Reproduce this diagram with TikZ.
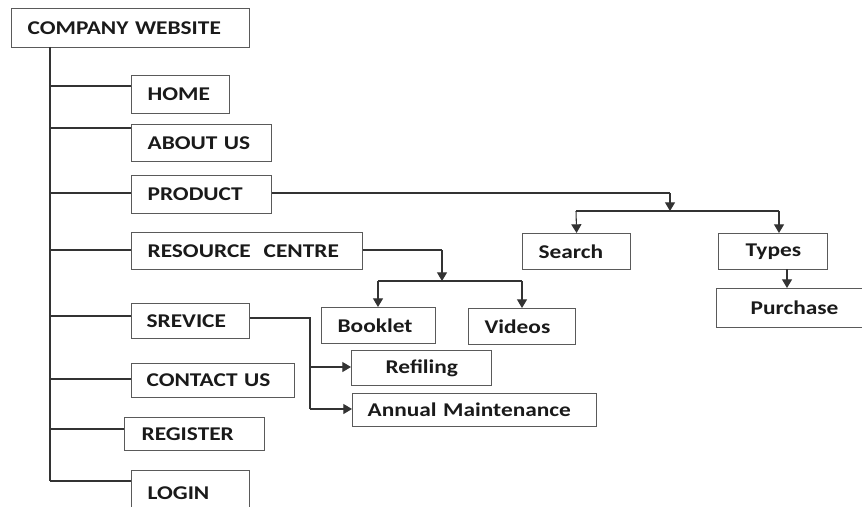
\documentclass[tikz,border=0pt]{standalone}
\usepackage{fontspec}
\setmainfont{Carlito}[FakeStretch=1.2]
\usetikzlibrary{arrows.meta}
\definecolor{edge}{HTML}{5A5A5A}
\definecolor{wire}{HTML}{333333}
\definecolor{ink}{HTML}{1A1A1A}
\tikzset{
  box/.style={draw=edge, line width=0.9pt, anchor=north west, align=left,
    inner ysep=0pt, text=ink, font=\fontsize{14.6}{16}\selectfont\bfseries},
  wirel/.style={draw=wire, line width=0.8pt},
  arr/.style={wirel, -{Triangle[width=7.5pt,length=6.5pt]}}
}
\begin{document}
\begin{tikzpicture}[x=0.75pt,y=-0.75pt]
\clip (0,0) rectangle (862,506);
\useasboundingbox (0,0) rectangle (862,506);
\fill[white] (0,0) rectangle (862,506);

% main menu
\node[box, inner xsep=12pt, text width=154.5pt, minimum height=29.25pt] (web) at (11,8) {\mbox{COMPANY WEBSITE}};
\node[box, inner xsep=12pt, text width=49.5pt, minimum height=28.5pt] (home) at (131,75) {\mbox{HOME}};
\node[box, inner xsep=12pt, text width=81pt, minimum height=27.75pt] (about) at (131,124) {\mbox{ABOUT US}};
\node[box, inner xsep=12pt, text width=81pt, minimum height=28.5pt] (product) at (131,175) {\mbox{PRODUCT}};
\node[box, inner xsep=12pt, text width=149.25pt, minimum height=27.75pt] (resource) at (131,232) {\mbox{RESOURCE\ \ CENTRE}};
\node[box, inner xsep=11.25pt, text width=66pt, minimum height=26.25pt] (service) at (131,303) {\mbox{SREVICE}};
\node[box, inner xsep=11.25pt, text width=99.75pt, minimum height=25.5pt] (contact) at (131,363) {\mbox{CONTACT US}};
\node[box, inner xsep=12.75pt, text width=79.5pt, minimum height=24.75pt] (register) at (124,417) {\mbox{REGISTER}};
\node[box, inner xsep=12pt, text width=64.5pt, minimum height=33.75pt] (login) at (131,470) {\mbox{LOGIN}};

% sub pages
\node[box, inner xsep=12pt, text width=57pt, minimum height=27pt] (search) at (522,233) {\mbox{Search}};
\node[box, inner xsep=20.25pt, text width=41.25pt, minimum height=27pt] (types) at (718,233) {\mbox{Types}};
\node[box, inner xsep=25.5pt, text width=69pt, minimum height=29.25pt] (purchase) at (716,288) {\mbox{Purchase}};
\node[box, inner xsep=12pt, text width=61.5pt, minimum height=27pt] (booklet) at (321,307) {\mbox{Booklet}};
\node[box, inner xsep=12pt, text width=56.25pt, minimum height=27pt] (videos) at (468,308) {\mbox{Videos}};
\node[box, inner xsep=25.5pt, text width=54pt, minimum height=26.25pt] (refiling) at (351,350) {\mbox{Refiling}};
\node[box, inner xsep=11.25pt, text width=160.5pt, minimum height=24.75pt] (annual) at (352,393) {\mbox{Annual Maintenance}};

% trunk and branches
\coordinate (ttop) at (50,47);
\coordinate (tbot) at (50,481);
\draw[wirel] (ttop) -- (tbot);
\coordinate (b1) at (50,86);
\coordinate (b2) at (50,128);
\coordinate (b3) at (50,193);
\coordinate (b4) at (50,250);
\coordinate (b5) at (50,316);
\coordinate (b6) at (50,379);
\coordinate (b7) at (50,429);
\coordinate (b8) at (50,481);
\draw[wirel] (b1) -- (b1 -| home.west);
\draw[wirel] (b2) -- (b2 -| about.west);
\draw[wirel] (b3) -- (b3 -| product.west);
\draw[wirel] (b4) -- (b4 -| resource.west);
\draw[wirel] (b5) -- (b5 -| service.west);
\draw[wirel] (b6) -- (b6 -| contact.west);
\draw[wirel] (b7) -- (b7 -| register.west);
\draw[wirel] (b8) -- (b8 -| login.west);

% product
\coordinate (pj) at (670,211);
\coordinate (pjt) at (670,193);
\draw[wirel] (product.east |- pjt) -- (pjt);
\draw[arr] (pjt) -- (pj);
\coordinate (pl) at (576,211);
\coordinate (pr) at (779,211);
\draw[wirel] (pl) -- (pr);
\draw[arr] (pl) -- (search.north);
\draw[arr] (pr) -- (pr |- types.north);
\coordinate (tp) at (787,269);
\draw[arr] (tp) -- (tp |- purchase.north);

% resource centre
\coordinate (rjt) at (442,250);
\coordinate (rj) at (442,281);
\draw[wirel] (resource.east |- rjt) -- (rjt);
\draw[arr] (rjt) -- (rj);
\coordinate (rl) at (378,281);
\coordinate (rr) at (522,281);
\draw[wirel] (rl) -- (rr);
\draw[arr] (rl) -- (rl |- booklet.north);
\draw[arr] (rr) -- (rr |- videos.north);

% service
\coordinate (sj) at (310,318);
\coordinate (s1) at (310,367);
\coordinate (s2) at (310,409);
\draw[wirel] (service.east |- sj) -- (sj) -- (s2);
\draw[arr] (s1) -- (s1 -| refiling.west);
\draw[arr] (s2) -- (s2 -| annual.west);
\end{tikzpicture}
\end{document}
